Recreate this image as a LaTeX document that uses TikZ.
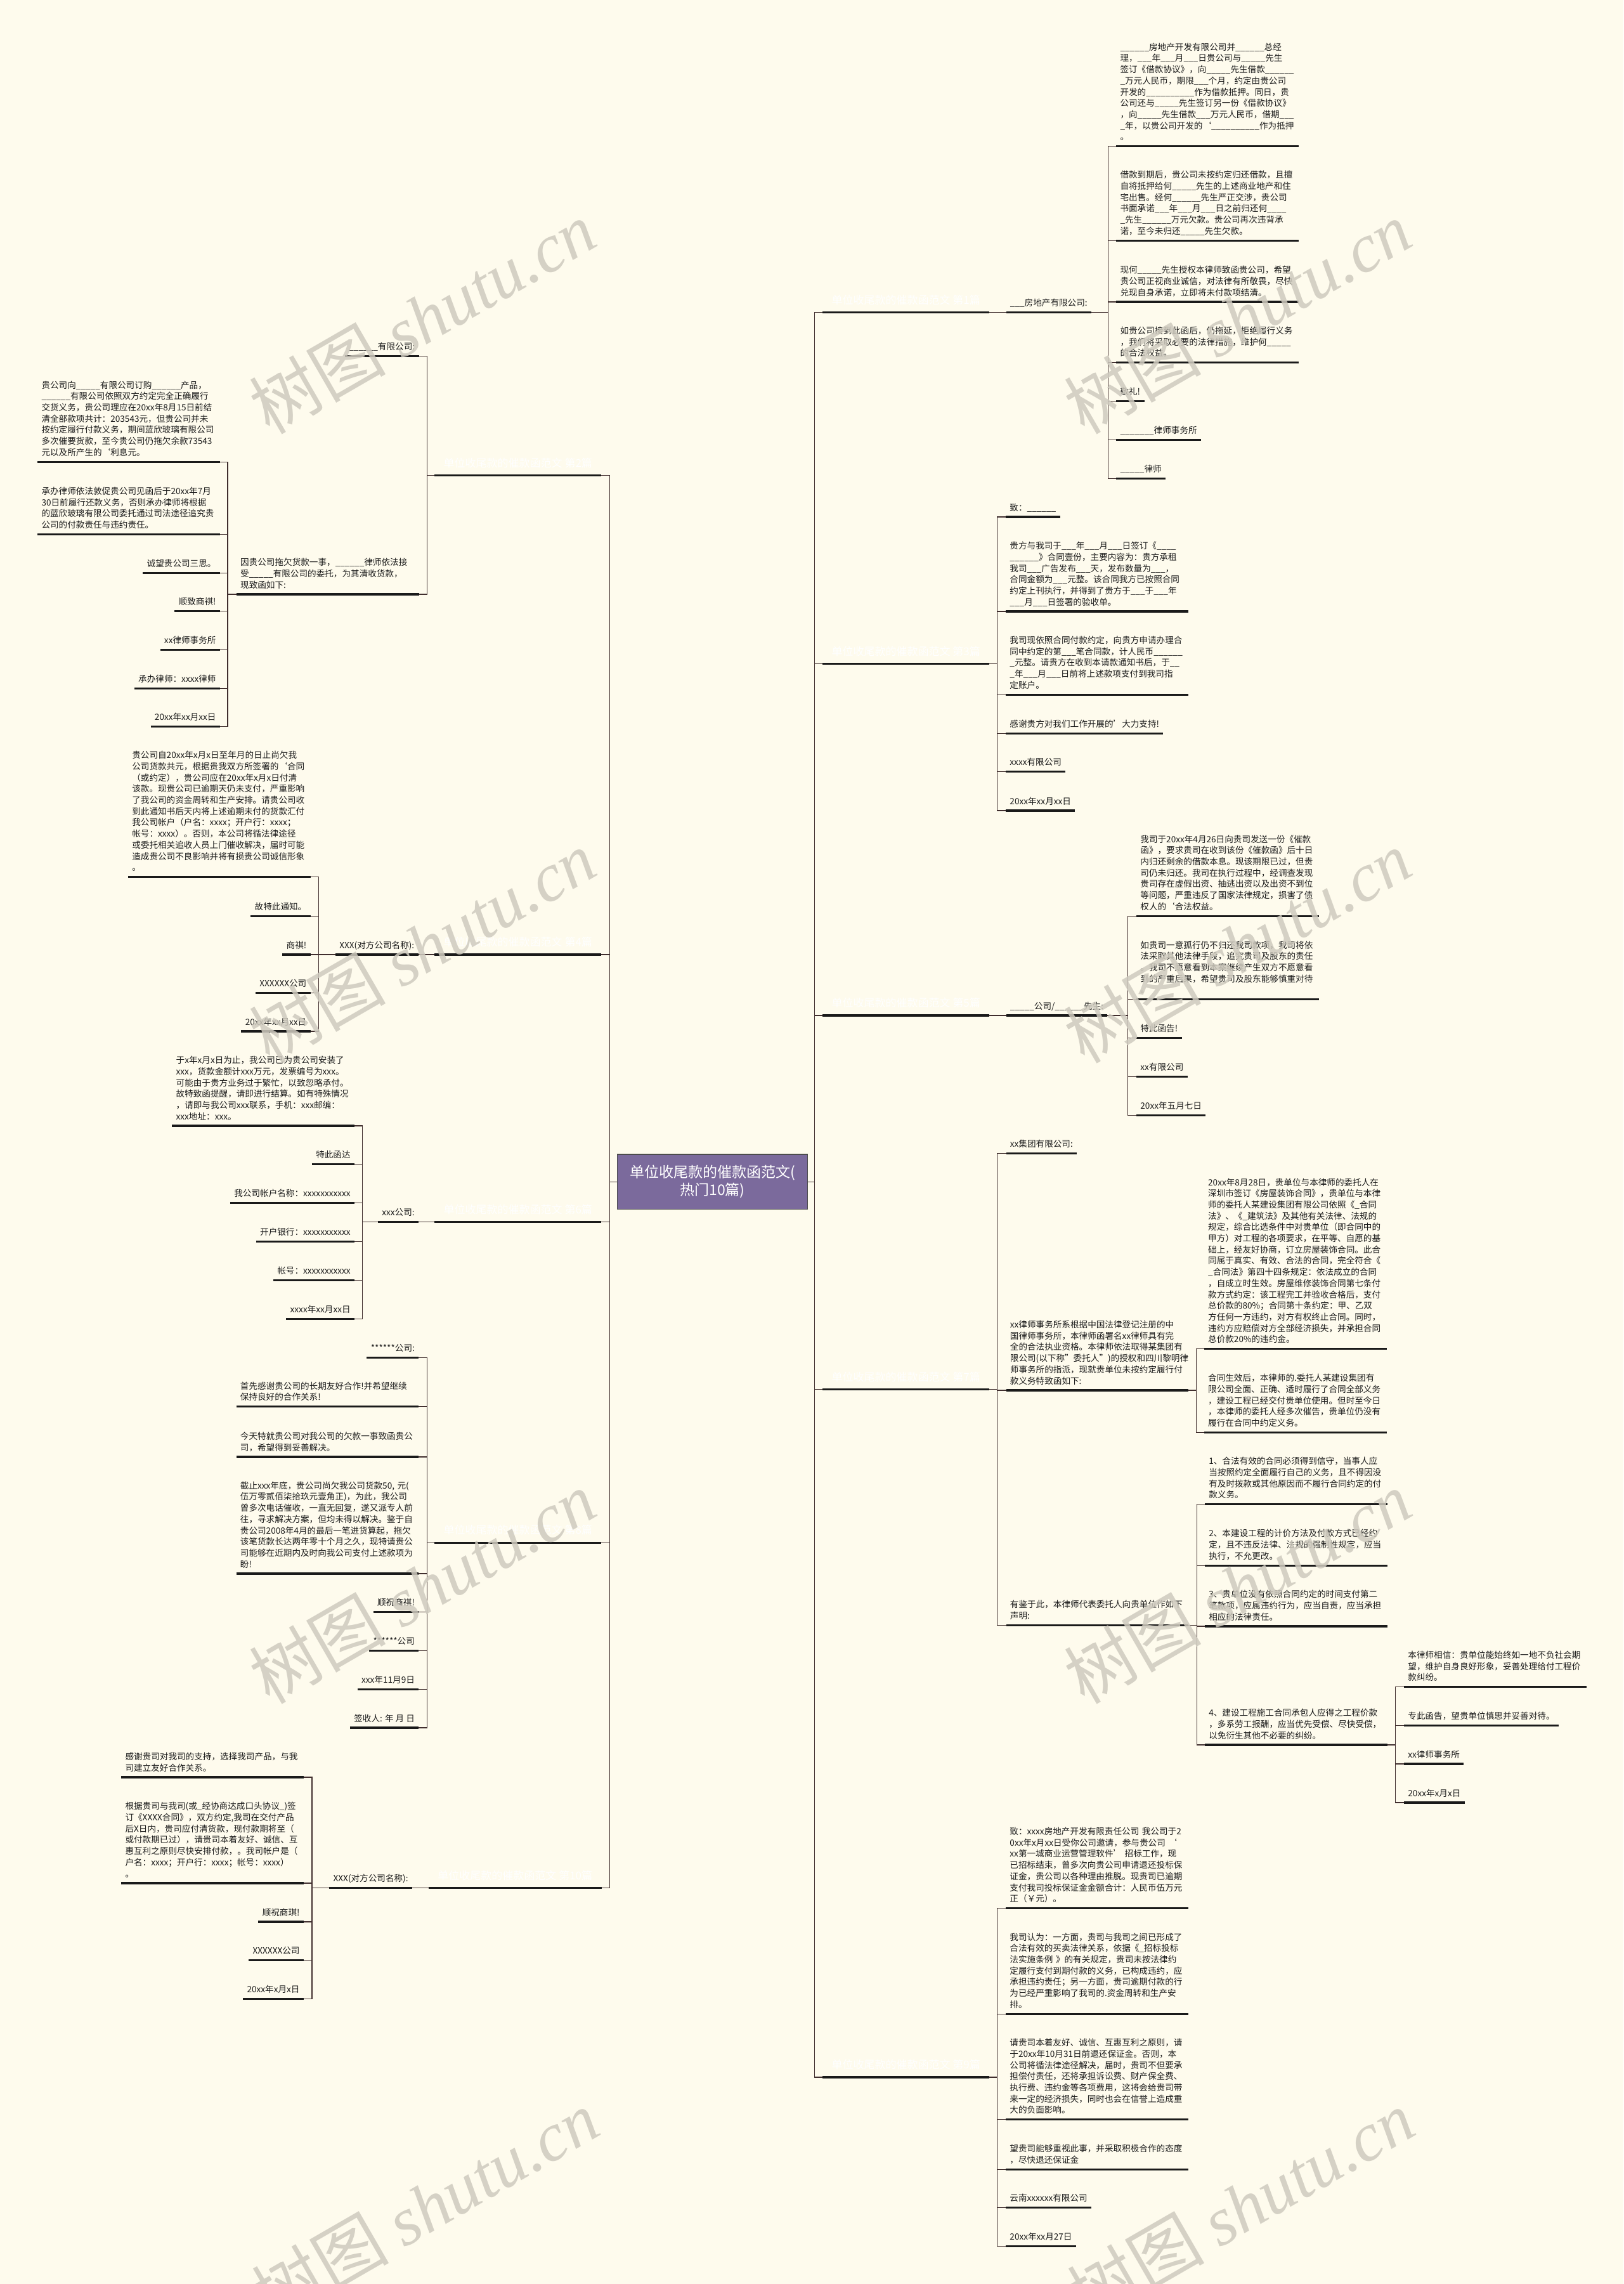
\documentclass[tikz,border=0pt]{standalone}
\usepackage{fontspec}
\usepackage{xcolor}
\usepackage{tikz}
\setmainfont{Noto Sans CJK SC}
\newfontfamily\stampserif{Liberation Serif}
\definecolor{paper}{RGB}{254,251,237}
\definecolor{hubpurple}{RGB}{123,106,156}
\definecolor{wirebrown}{RGB}{64,46,46}
\definecolor{inkdark}{RGB}{26,26,26}
\definecolor{stampgray}{RGB}{206,202,190}
\newcommand{\rootsize}{\fontsize{11.5pt}{14pt}\selectfont}
\newcommand{\tagsize}{\fontsize{8.5pt}{10.5pt}\selectfont}
\newcommand{\leafsize}{\fontsize{6.8pt}{8.85pt}\selectfont}
\newcommand{\stampsize}{\fontsize{54pt}{60pt}\selectfont}
\hyphenpenalty=10000
\exhyphenpenalty=10000

\begin{document}
\catcode`\_=12
\begin{tikzpicture}[
    x=1.148pt, y=-1.148pt,
    root/.style={rectangle, draw=black!70, line width=0.6pt, fill=hubpurple, text=white, font=\rootsize, align=center, minimum width=149.8pt, minimum height=43.2pt, inner sep=2pt},
    tag/.style={font=\tagsize, text=white, minimum width=131pt, inner xsep=0pt, inner ysep=3.3pt, execute at end node=\strut},
    leaf/.style={font=\leafsize, text=inkdark, align=left, inner xsep=3pt, inner ysep=2.1pt, execute at end node=\strut},
    para/.style={leaf, text width=137.5pt},
    wire/.style={draw=wirebrown, line width=0.6pt},
    bar/.style={draw=inkdark, line width=1.6pt},
    stamp/.style={font=\stampsize, text=stampgray, text opacity=0.85, rotate=30, inner sep=0pt},
]
\fill[paper] (0,0) rectangle (1115,1568.4);
\useasboundingbox (0,0) rectangle (1115,1568.4);

\node[root] (root) at (489.3,811.5) {单位收尾款的催款函范文(\\热门10篇)};
\coordinate (rtrunk) at (559.6,811.5);
\coordinate (ltrunk) at (418.7,811.5);

\node[tag, anchor=south west] (b1) at (565,214.6) {单位收尾款的催款函范文 第1篇};
\node[tag, anchor=south west] (b3) at (565,455.9) {单位收尾款的催款函范文 第3篇};
\node[tag, anchor=south west] (b5) at (565,697.3) {单位收尾款的催款函范文 第5篇};
\node[tag, anchor=south west] (b7) at (565,954) {单位收尾款的催款函范文 第7篇};
\node[tag, anchor=south west] (b9) at (565,1426.4) {单位收尾款的催款函范文 第9篇};
\node[tag, anchor=south east] (b2) at (413,326.6) {单位收尾款的催款函范文 第2篇};
\node[tag, anchor=south east] (b4) at (413,655.5) {单位收尾款的催款函范文 第4篇};
\node[tag, anchor=south east] (b6) at (413,839.1) {单位收尾款的催款函范文 第6篇};
\node[tag, anchor=south east] (b8) at (413,1059.3) {单位收尾款的催款函范文 第8篇};
\node[tag, anchor=south east, minimum width=136pt] (b10) at (413.2,1296.5) {单位收尾款的催款函范文 第10篇};

\node[leaf, anchor=south west] (b1h) at (691,214.6) {___房地产有限公司:};
\node[para, anchor=south west] (b1x1) at (766.6,100.5) {______房地产开发有限公司并______总经\\理，___年___月___日贵公司与_____先生\\签订《借款协议》，向_____先生借款______\\_万元人民币，期限___个月，约定由贵公司\\开发的__________作为借款抵押。同日，贵\\公司还与_____先生签订另一份《借款协议》\\，向_____先生借款___万元人民币，借期___\\_年，以贵公司开发的`__________作为抵押\\。};
\node[para, anchor=south west] (b1x2) at (766.6,165.2) {借款到期后，贵公司未按约定归还借款，且擅\\自将抵押给何_____先生的上述商业地产和住\\宅出售。经何______先生严正交涉，贵公司\\书面承诺___年___月___日之前归还何____\\_先生______万元欠款。贵公司再次违背承\\诺，至今未归还_____先生欠款。};
\node[para, anchor=south west] (b1x3) at (766.6,207.3) {现何_____先生授权本律师致函贵公司，希望\\贵公司正视商业诚信，对法律有所敬畏，尽快\\兑现自身承诺，立即将未付款项结清。};
\node[para, anchor=south west] (b1x4) at (766.6,249) {如贵公司接到此函后，仍拖延，拒绝履行义务\\，我们将采取必要的法律措施，维护何_____\\的合法权益。};
\node[leaf, anchor=south west] (b1x5) at (766.6,275.6) {敬礼!};
\node[leaf, anchor=south west] (b1x6) at (766.6,301.9) {_______律师事务所};
\node[leaf, anchor=south west] (b1x7) at (766.6,328.6) {_____律师};

\node[leaf, anchor=south west] (b3x1) at (690.8,355) {致：______};
\node[para, anchor=south west] (b3x2) at (690.8,419.9) {贵方与我司于___年___月___日签订《____\\______》合同壹份，主要内容为：贵方承租\\我司___广告发布___天，发布数量为___，\\合同金额为___元整。该合同我方已按照合同\\约定上刊执行，并得到了贵方于___于___年\\___月___日签署的验收单。};
\node[para, anchor=south west] (b3x3) at (690.8,477) {我司现依照合同付款约定，向贵方申请办理合\\同中约定的第___笔合同款，计人民币______\\_元整。请贵方在收到本请款通知书后，于__\\_年___月___日前将上述款项支付到我司指\\定账户。};
\node[leaf, anchor=south west] (b3x4) at (690.8,503.8) {感谢贵方对我们工作开展的'大力支持!};
\node[leaf, anchor=south west] (b3x5) at (690.8,530) {xxxx有限公司};
\node[leaf, anchor=south west] (b3x6) at (690.8,556.6) {20xx年xx月xx日};

\node[leaf, anchor=south west] (b5h) at (691,697.3) {_____公司/______先生:};
\node[para, anchor=south west] (b5x1) at (780.5,629) {我司于20xx年4月26日向贵司发送一份《催款\\函》，要求贵司在收到该份《催款函》后十日\\内归还剩余的借款本息。现该期限已过，但贵\\司仍未归还。我司在执行过程中，经调查发现\\贵司存在虚假出资、抽逃出资以及出资不到位\\等问题，严重违反了国家法律规定，损害了债\\权人的`合法权益。};
\node[para, anchor=south west] (b5x2) at (780.5,686.3) {如贵司一意孤行仍不归还我司款项，我司将依\\法采取其他法律手段，追究贵司及股东的责任\\。我司不愿意看到本案继续产生双方不愿意看\\到的严重后果，希望贵司及股东能够慎重对待\\。};
\node[leaf, anchor=south west] (b5x3) at (780.5,712.8) {特此函告!};
\node[leaf, anchor=south west] (b5x4) at (780.5,739.3) {xx有限公司};
\node[leaf, anchor=south west] (b5x5) at (780.5,765.8) {20xx年五月七日};

\node[leaf, anchor=south west] (b7h1) at (691,792) {xx集团有限公司:};
\node[para, anchor=south west] (b7h2) at (691,954.7) {xx律师事务所系根据中国法律登记注册的中\\国律师事务所，本律师函署名xx律师具有完\\全的合法执业资格。本律师依法取得某集团有\\限公司(以下称"委托人")的授权和四川黎明律\\师事务所的指派，现就贵单位未按约定履行付\\款义务特致函如下:};
\node[para, anchor=south west] (b7h3) at (691,1116) {有鉴于此，本律师代表委托人向贵单位作如下\\声明:};
\node[para, anchor=south west] (b7m1) at (827,926.3) {20xx年8月28日，贵单位与本律师的委托人在\\深圳市签订《房屋装饰合同》，贵单位与本律\\师的委托人某建设集团有限公司依照《_合同\\法》、《_建筑法》及其他有关法律、法规的\\规定，综合比选条件中对贵单位（即合同中的\\甲方）对工程的各项要求，在平等、自愿的基\\础上，经友好协商，订立房屋装饰合同。此合\\同属于真实、有效、合法的合同，完全符合《\\_合同法》第四十四条规定：依法成立的合同\\，自成立时生效。房屋维修装饰合同第七条付\\款方式约定：该工程完工并验收合格后，支付\\总价款的80\%；合同第十条约定：甲、乙双\\方任何一方违约，对方有权终止合同。同时，\\违约方应赔偿对方全部经济损失，并承担合同\\总价款20\%的违约金。};
\node[para, anchor=south west] (b7m2) at (827,983.7) {合同生效后，本律师的.委托人某建设集团有\\限公司全面、正确、适时履行了合同全部义务\\，建设工程已经交付贵单位使用。但时至今日\\，本律师的委托人经多次催告，贵单位仍没有\\履行在合同中约定义务。};
\node[para, anchor=south west] (b7n1) at (827.5,1033) {1、合法有效的合同必须得到信守，当事人应\\当按照约定全面履行自己的义务，且不得因没\\有及时拨款或其他原因而不履行合同约定的付\\款义务。};
\node[para, anchor=south west] (b7n2) at (827.5,1075) {2、本建设工程的计价方法及付款方式已经约\\定，且不违反法律、法规的强制性规定，应当\\执行，不允更改。};
\node[para, anchor=south west] (b7n3) at (827.5,1116.7) {3、贵单位没有依照合同约定的时间支付第二\\笔款项，应属违约行为，应当自责，应当承担\\相应的法律责任。};
\node[para, anchor=south west] (b7n4) at (827.5,1198.2) {4、建设工程施工合同承包人应得之工程价款\\，多系劳工报酬，应当优先受偿、尽快受偿，\\以免衍生其他不必要的纠纷。};
\node[para, anchor=south west] (b7q1) at (964.3,1158.4) {本律师相信：贵单位能始终如一地不负社会期\\望，维护自身良好形象，妥善处理给付工程价\\款纠纷。};
\node[leaf, anchor=south west] (b7q2) at (964.3,1185) {专此函告，望贵单位慎思并妥善对待。};
\node[leaf, anchor=south west] (b7q3) at (964.3,1211.2) {xx律师事务所};
\node[leaf, anchor=south west] (b7q4) at (964.3,1237.8) {20xx年x月x日};

\node[para, anchor=south west] (b9x1) at (690.8,1310.4) {致：xxxx房地产开发有限责任公司~我公司于2\\0xx年x月xx日受你公司邀请，参与贵公司~‘\\xx第一城商业运营管理软件’~招标工作，现\\已招标结束，曾多次向贵公司申请退还投标保\\证金，贵公司以各种理由推脱。现贵司已逾期\\支付我司投标保证金金额合计：人民币伍万元\\正（￥元）。};
\node[para, anchor=south west] (b9x2) at (690.8,1382.9) {我司认为：一方面，贵司与我司之间已形成了\\合法有效的买卖法律关系，依据《_招标投标\\法实施条例~》的有关规定，贵司未按法律约\\定履行支付到期付款的义务，已构成违约，应\\承担违约责任；另一方面，贵司逾期付款的行\\为已经严重影响了我司的.资金周转和生产安\\排。};
\node[para, anchor=south west] (b9x3) at (690.8,1455.5) {请贵司本着友好、诚信、互惠互利之原则，请\\于20xx年10月31日前退还保证金。否则，本\\公司将循法律途径解决，届时，贵司不但要承\\担偿付责任，还将承担诉讼费、财产保全费、\\执行费、违约金等各项费用，这将会给贵司带\\来一定的经济损失，同时也会在信誉上造成重\\大的负面影响。};
\node[para, anchor=south west] (b9x4) at (690.8,1489.7) {望贵司能够重视此事，并采取积极合作的态度\\，尽快退还保证金};
\node[leaf, anchor=south west] (b9x5) at (690.8,1515.9) {云南xxxxxx有限公司};
\node[leaf, anchor=south west] (b9x6) at (690.8,1542.5) {20xx年xx月27日};

\node[leaf, anchor=south east] (b2h1) at (287.7,244.6) {______有限公司:};
\node[para, anchor=south east] (b2h2) at (287.7,408.1) {因贵公司拖欠货款一事，______律师依法接\\受_____有限公司的委托，为其清收货款，\\现致函如下:};
\node[para, anchor=south east] (b2x1) at (151.1,317.2) {贵公司向_____有限公司订购______产品，\\______有限公司依照双方约定完全正确履行\\交货义务，贵公司理应在20xx年8月15日前结\\清全部款项共计：203543元，但贵公司并未\\按约定履行付款义务，期间蓝欣玻璃有限公司\\多次催要货款，至今贵公司仍拖欠余款73543\\元以及所产生的`利息元。};
\node[para, anchor=south east] (b2x2) at (151.1,366.9) {承办律师依法敦促贵公司见函后于20xx年7月\\30日前履行还款义务，否则承办律师将根据\\的蓝欣玻璃有限公司委托通过司法途径追究贵\\公司的付款责任与违约责任。};
\node[leaf, anchor=south east] (b2x3) at (151.1,393.4) {诚望贵公司三思。};
\node[leaf, anchor=south east] (b2x4) at (151.1,419.7) {顺致商祺!};
\node[leaf, anchor=south east] (b2x5) at (151.1,446.2) {xx律师事务所};
\node[leaf, anchor=south east] (b2x6) at (151.1,472.7) {承办律师：xxxx律师};
\node[leaf, anchor=south east] (b2x7) at (151.1,499) {20xx年xx月xx日};

\node[leaf, anchor=south east] (b4h) at (287.3,655.5) {XXX(对方公司名称):};
\node[para, anchor=south east] (b4x1) at (213.3,602.2) {贵公司自20xx年x月x日至年月的日止尚欠我\\公司货款共元，根据贵我双方所签署的`合同\\（或约定），贵公司应在20xx年x月x日付清\\该款。现贵公司已逾期天仍未支付，严重影响\\了我公司的资金周转和生产安排。请贵公司收\\到此通知书后天内将上述逾期未付的货款汇付\\我公司帐户（户名：xxxx；开户行：xxxx；\\帐号：xxxx）。否则，本公司将循法律途径\\或委托相关追收人员上门催收解决，届时可能\\造成贵公司不良影响并将有损贵公司诚信形象\\。};
\node[leaf, anchor=south east] (b4x2) at (213.3,629) {故特此通知。};
\node[leaf, anchor=south east] (b4x3) at (213.3,655.5) {商祺!};
\node[leaf, anchor=south east] (b4x4) at (213.3,681.9) {XXXXXX公司};
\node[leaf, anchor=south east] (b4x5) at (213.3,708.2) {20xx年xx月xx日};

\node[leaf, anchor=south east] (b6h) at (287.5,839.1) {xxx公司:};
\node[para, anchor=south east] (b6x1) at (243.5,773.1) {于x年x月x日为止，我公司已为贵公司安装了\\xxx，货款金额计xxx万元，发票编号为xxx。\\可能由于贵方业务过于繁忙，以致忽略承付。\\故特致函提醒，请即进行结算。如有特殊情况\\，请即与我公司xxx联系，手机：xxx邮编：\\xxx地址：xxx。};
\node[leaf, anchor=south east] (b6x2) at (243.5,799.6) {特此函达};
\node[leaf, anchor=south east] (b6x3) at (243.5,826) {我公司帐户名称：xxxxxxxxxxx};
\node[leaf, anchor=south east] (b6x4) at (243.5,852.6) {开户银行：xxxxxxxxxxx};
\node[leaf, anchor=south east] (b6x5) at (243.5,879) {帐号：xxxxxxxxxxx};
\node[leaf, anchor=south east] (b6x6) at (243.5,905.6) {xxxx年xx月xx日};

\node[leaf, anchor=south east] (b8x1) at (287.6,932.1) {******公司:};
\node[para, anchor=south east] (b8x2) at (287.6,965.9) {首先感谢贵公司的长期友好合作!并希望继续\\保持良好的合作关系!};
\node[para, anchor=south east] (b8x3) at (287.6,1000.4) {今天特就贵公司对我公司的欠款一事致函贵公\\司，希望得到妥善解决。};
\node[para, anchor=south east] (b8x4) at (287.6,1080.6) {截止xxx年底，贵公司尚欠我公司货款50,~元(\\伍万零贰佰柒拾玖元壹角正)，为此，我公司\\曾多次电话催收，一直无回复，遂又派专人前\\往，寻求解决方案，但均未得以解决。鉴于自\\贵公司2008年4月的最后一笔进货算起，拖欠\\该笔货款长达两年零十个月之久，现特请贵公\\司能够在近期内及时向我公司支付上述款项为\\盼!};
\node[leaf, anchor=south east] (b8x5) at (287.6,1107) {顺祝商祺!};
\node[leaf, anchor=south east] (b8x6) at (287.6,1133.4) {******公司};
\node[leaf, anchor=south east] (b8x7) at (287.6,1160) {xxx年11月9日};
\node[leaf, anchor=south east] (b8x8) at (287.6,1186.4) {签收人: 年 月 日};

\node[leaf, anchor=south east] (b10h) at (283.1,1296.5) {XXX(对方公司名称):};
\node[para, anchor=south east] (b10x1) at (208.6,1220.4) {感谢贵司对我司的支持，选择我司产品，与我\\司建立友好合作关系。};
\node[para, anchor=south east] (b10x2) at (208.6,1293.1) {根据贵司与我司(或_经协商达成口头协议_)签\\订《XXXX合同》，双方约定,我司在交付产品\\后X日内，贵司应付清货款，现付款期将至（\\或付款期已过），请贵司本着友好、诚信、互\\惠互利之原则尽快安排付款，。我司帐户是（\\户名：xxxx；开户行：xxxx；帐号：xxxx）\\。};
\node[leaf, anchor=south east] (b10x3) at (208.6,1319.7) {顺祝商琪!};
\node[leaf, anchor=south east] (b10x4) at (208.6,1346.1) {XXXXXX公司};
\node[leaf, anchor=south east] (b10x5) at (208.6,1372.7) {20xx年x月x日};

\coordinate (v1) at (761,0);
\coordinate (v3) at (685,0);
\coordinate (v5) at (774.6,0);
\coordinate (v7) at (685,0);
\coordinate (v7b) at (821.7,0);
\coordinate (v7c) at (822,0);
\coordinate (v7d) at (958.4,0);
\coordinate (v9) at (685,0);
\coordinate (v2) at (293.4,0);
\coordinate (v2b) at (156.4,0);
\coordinate (v4) at (218.8,0);
\coordinate (v6) at (249,0);
\coordinate (v8) at (293.3,0);
\coordinate (v10) at (214.3,0);

\foreach \b in {b1,b3,b5,b7,b9} \draw[wire] (root.east) -- (root.east -| rtrunk) |- (\b.south west);
\foreach \b in {b2,b4,b6,b8,b10} \draw[wire] (root.west) -- (root.west -| ltrunk) |- (\b.south east);

\draw[wire] (b1.south east) -- (b1h.south west);
\foreach \i in {1,...,7} \draw[wire] (b1h.south east) -- (b1h.south east -| v1) |- (b1x\i.south west);
\foreach \i in {1,...,6} \draw[wire] (b3.south east) -- (b3.south east -| v3) |- (b3x\i.south west);
\draw[wire] (b5.south east) -- (b5h.south west);
\foreach \i in {1,...,5} \draw[wire] (b5h.south east) -- (b5h.south east -| v5) |- (b5x\i.south west);
\foreach \i in {1,2,3} \draw[wire] (b7.south east) -- (b7.south east -| v7) |- (b7h\i.south west);
\foreach \i in {1,2} \draw[wire] (b7h2.south east) -- (b7h2.south east -| v7b) |- (b7m\i.south west);
\foreach \i in {1,...,4} \draw[wire] (b7h3.south east) -- (b7h3.south east -| v7c) |- (b7n\i.south west);
\foreach \i in {1,...,4} \draw[wire] (b7n4.south east) -- (b7n4.south east -| v7d) |- (b7q\i.south west);
\foreach \i in {1,...,6} \draw[wire] (b9.south east) -- (b9.south east -| v9) |- (b9x\i.south west);

\foreach \i in {1,2} \draw[wire] (b2.south west) -- (b2.south west -| v2) |- (b2h\i.south east);
\foreach \i in {1,...,7} \draw[wire] (b2h2.south west) -- (b2h2.south west -| v2b) |- (b2x\i.south east);
\draw[wire] (b4.south west) -- (b4h.south east);
\foreach \i in {1,...,5} \draw[wire] (b4h.south west) -- (b4h.south west -| v4) |- (b4x\i.south east);
\draw[wire] (b6.south west) -- (b6h.south east);
\foreach \i in {1,...,6} \draw[wire] (b6h.south west) -- (b6h.south west -| v6) |- (b6x\i.south east);
\foreach \i in {1,...,8} \draw[wire] (b8.south west) -- (b8.south west -| v8) |- (b8x\i.south east);
\draw[wire] (b10.south west) -- (b10h.south east);
\foreach \i in {1,...,5} \draw[wire] (b10h.south west) -- (b10h.south west -| v10) |- (b10x\i.south east);

\foreach \n in {b1,b1h,b1x1,b1x2,b1x3,b1x4,b1x5,b1x6,b1x7,
    b3,b3x1,b3x2,b3x3,b3x4,b3x5,b3x6,
    b5,b5h,b5x1,b5x2,b5x3,b5x4,b5x5,
    b7,b7h1,b7h2,b7h3,b7m1,b7m2,b7n1,b7n2,b7n3,b7n4,b7q1,b7q2,b7q3,b7q4,
    b9,b9x1,b9x2,b9x3,b9x4,b9x5,b9x6,
    b2,b2h1,b2h2,b2x1,b2x2,b2x3,b2x4,b2x5,b2x6,b2x7,
    b4,b4h,b4x1,b4x2,b4x3,b4x4,b4x5,
    b6,b6h,b6x1,b6x2,b6x3,b6x4,b6x5,b6x6,
    b8,b8x1,b8x2,b8x3,b8x4,b8x5,b8x6,b8x7,b8x8,
    b10,b10h,b10x1,b10x2,b10x3,b10x4,b10x5}
  \draw[bar] (\n.south west) -- (\n.south east);

\node[stamp] (wm1) at (290,218) {树图 {\stampserif\itshape shutu.cn}};
\node[stamp] (wm2) at (850,218) {树图 {\stampserif\itshape shutu.cn}};
\node[stamp] (wm3) at (290,650) {树图 {\stampserif\itshape shutu.cn}};
\node[stamp] (wm4) at (850,650) {树图 {\stampserif\itshape shutu.cn}};
\node[stamp] (wm5) at (290,1090) {树图 {\stampserif\itshape shutu.cn}};
\node[stamp] (wm6) at (850,1090) {树图 {\stampserif\itshape shutu.cn}};
\node[stamp] (wm7) at (292,1515) {树图 {\stampserif\itshape shutu.cn}};
\node[stamp] (wm8) at (852,1515) {树图 {\stampserif\itshape shutu.cn}};
\end{tikzpicture}
\end{document}
